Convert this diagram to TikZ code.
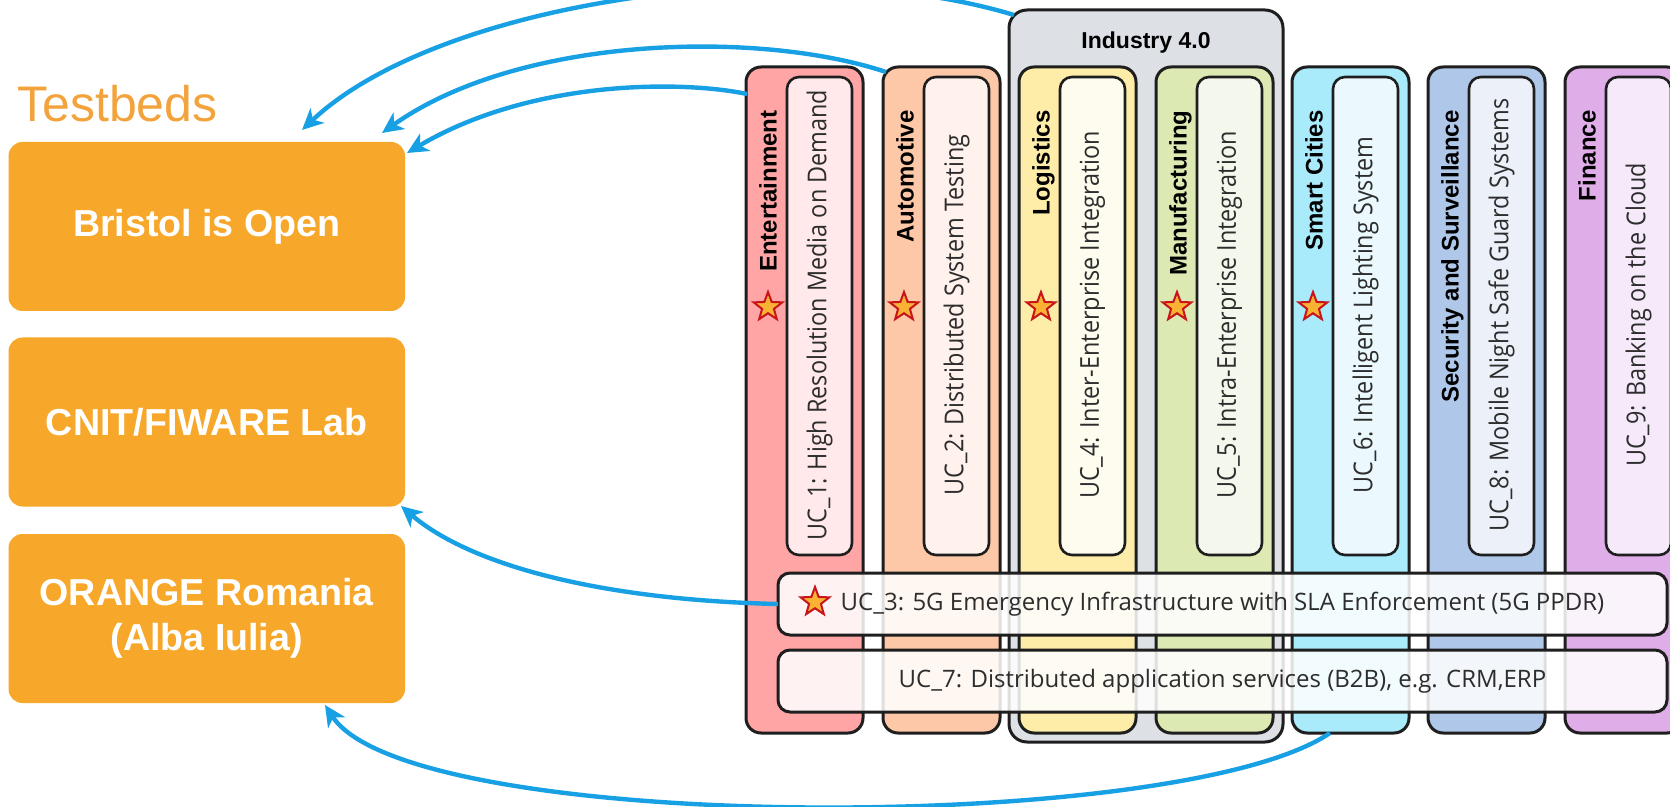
\documentclass[tikz,border=0pt]{standalone}
\usepackage{fontspec}
\setmainfont{Liberation Sans}
\newfontfamily\ucfont[FakeStretch=0.90]{Open Sans}
\newfontfamily\barfont{Open Sans}
\usetikzlibrary{shapes.geometric,arrows.meta,calc}
\definecolor{orangebox}{RGB}{247,167,42}
\definecolor{tbcol}{RGB}{243,163,60}
\definecolor{arrblue}{RGB}{24,160,228}
\definecolor{bordercol}{RGB}{30,30,30}
\definecolor{entO}{RGB}{255,165,165}\definecolor{entI}{RGB}{255,233,234}
\definecolor{autO}{RGB}{253,200,167}\definecolor{autI}{RGB}{255,241,236}
\definecolor{indG}{RGB}{221,225,230}
\definecolor{logO}{RGB}{254,237,169}\definecolor{logI}{RGB}{254,252,238}
\definecolor{manO}{RGB}{221,233,178}\definecolor{manI}{RGB}{244,247,235}
\definecolor{smcO}{RGB}{169,235,251}\definecolor{smcI}{RGB}{235,249,254}
\definecolor{secO}{RGB}{175,199,233}\definecolor{secI}{RGB}{236,241,249}
\definecolor{finO}{RGB}{223,174,232}\definecolor{finI}{RGB}{246,233,249}
\definecolor{starfill}{RGB}{249,178,51}
\definecolor{starline}{RGB}{200,21,27}
\definecolor{uctext}{RGB}{45,45,45}
\newcommand{\ucol}[6]{%
  \node[colbox, fill=#3] (#1) at (#2+58.5,400) {};
  \node[innerbox, fill=#4] (#1-in) at (#2+73.5,316) {};
  \node[lbl, anchor=base east] (#1-lbl) at (#2+30.5,110) {#5};
  \node[uct] (#1-uc) at (#2+73.5,315) {#6};
}
\begin{document}
\begin{tikzpicture}[x=0.5pt,y=-0.5pt,
  colbox/.style={draw=bordercol, line width=1.5pt, rounded corners=7.5pt, minimum width=58.5pt, minimum height=333pt, inner sep=0pt},
  innerbox/.style={draw=bordercol, line width=1.3pt, rounded corners=6pt, minimum width=32.5pt, minimum height=239pt, inner sep=0pt},
  grp/.style={draw=bordercol, line width=1.5pt, rounded corners=9pt, fill=indG, minimum width=137pt, minimum height=366pt, inner sep=0pt},
  lbl/.style={rotate=90, inner sep=0pt, font=\bfseries\fontsize{12}{14}\selectfont},
  uct/.style={rotate=90, inner sep=0pt, text=uctext, font=\ucfont\fontsize{13}{15}\selectfont},
  ustar/.style={star, star points=5, star point ratio=2.4, fill=starfill, draw=starline, line width=1pt, minimum size=15pt, inner sep=0pt},
  bar/.style={draw=bordercol, line width=1.5pt, rounded corners=6pt, fill=white, fill opacity=0.86, text opacity=1, minimum width=444.5pt, minimum height=31pt, inner sep=0pt, text=uctext, font=\barfont\fontsize{12}{14}\selectfont},
  tbox/.style={fill=orangebox, rounded corners=7pt, minimum width=198.25pt, minimum height=84.5pt, text=white, align=center, font=\bfseries\fontsize{18.8}{22.5}\selectfont},
  arr/.style={draw=arrblue, line width=2.2pt, -{Stealth[length=10.5pt,width=10pt,inset=3pt]}}
]
\useasboundingbox (0,0) rectangle (1670,807);
\clip (0,0) rectangle (1670,807);

% Testbeds
\node[anchor=base west, text=tbcol, font=\fontsize{25}{28}\selectfont, inner sep=0pt] (tb) at (17,122) {Testbeds};
\node[tbox] (bristol) at (206.75,226.5) {Bristol is Open};
\node[tbox] (cnit) at (206.75,422) {CNIT/FIWARE Lab};
\node[tbox] (orange) at (206.75,618.5) {ORANGE Romania\\(Alba Iulia)};

% Industry 4.0 group
\node[grp] (ind) at (1146,376) {};
\node[anchor=base, inner sep=0pt, font=\bfseries\fontsize{11.5}{13}\selectfont] (indl) at (1146,49) {Industry 4.0};

% columns
\ucol{ent}{746}{entO}{entI}{Entertainment}{UC\_1: High Resolution Media on Demand}
\ucol{aut}{883}{autO}{autI}{Automotive}{UC\_2: Distributed System Testing}
\ucol{log}{1019}{logO}{logI}{Logistics}{UC\_4: Inter-Enterprise Integration}
\ucol{man}{1156}{manO}{manI}{Manufacturing}{UC\_5: Intra-Enterprise Integration}
\ucol{smc}{1292}{smcO}{smcI}{Smart Cities}{UC\_6: Intelligent Lighting System}
\ucol{sec}{1428}{secO}{secI}{Security and Surveillance}{UC\_8: Mobile Night Safe Guard Systems}
\ucol{fin}{1565}{finO}{finI}{Finance}{UC\_9: Banking on the Cloud}

% stars
\node[ustar] (ent-star) at (768,307) {};
\node[ustar] (aut-star) at (904,307) {};
\node[ustar] (log-star) at (1041,307) {};
\node[ustar] (man-star) at (1177,307) {};
\node[ustar] (smc-star) at (1313,307) {};

% bars
\node[bar] (uc3) at (1222.5,604) {UC\_3: 5G Emergency Infrastructure with SLA Enforcement (5G PPDR)};
\node[ustar] (uc3-star) at (815,602) {};
\node[bar] (uc7) at (1222.5,681) {UC\_7: Distributed application services (B2B), e.g. CRM,ERP};

% arrow end points
\coordinate (a1s) at (1014,15);
\coordinate (a1e) at (302,130);
\coordinate (a2s) at (886,72);
\coordinate (a2e) at (382,133);
\coordinate (a3s) at (747,94);
\coordinate (a3e) at (407,153);
\coordinate (a4s) at (778,604);
\coordinate (a4e) at (401,506);
\coordinate (a5s) at (1330,733);
\coordinate (a5e) at (325,705);

\draw[arr] (a1s) .. controls (800,-50) and (440,0) .. (a1e);
\draw[arr] (a2s) .. controls (760,30) and (520,35) .. (a2e);
\draw[arr] (a3s) .. controls (680,80) and (530,80) .. (a3e);
\draw[arr] (a4s) .. controls (600,600) and (470,565) .. (a4e);
\draw[arr] (a5s) .. controls (1180,835) and (410,835) .. (a5e);
\end{tikzpicture}
\end{document}
